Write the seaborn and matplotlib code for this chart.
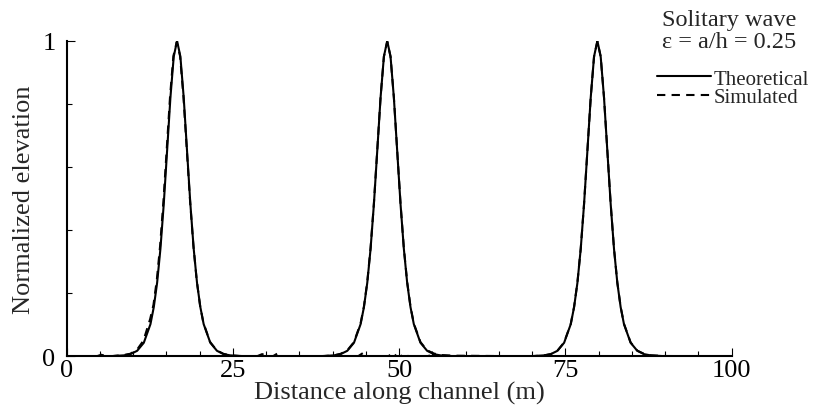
import numpy as np
import pandas as pd
import matplotlib
matplotlib.use("Agg")
import matplotlib.pyplot as plt
from matplotlib.lines import Line2D
import seaborn as sns

# -----------------------------
# DATA
# -----------------------------
peak_x = [16.6, 48.2, 79.8]          # crest positions of the three snapshots (m)
sim_peak_x = [16.55, 48.2, 79.8]

# distance from crest (m)
offsets = [-10, -8, -7, -6, -5, -4, -3.5, -3, -2.5, -2, -1.5, -1, -0.5, 0,
           0.5, 1, 1.5, 2, 2.5, 3, 3.5, 4, 5, 6, 7, 8, 10]

theory_profile = [0.0005, 0.003, 0.007, 0.0175, 0.043, 0.102, 0.156, 0.233, 0.341, 0.483,
                  0.651, 0.820, 0.950, 1.0, 0.950, 0.820, 0.651, 0.483, 0.341, 0.233,
                  0.156, 0.102, 0.043, 0.0175, 0.007, 0.003, 0.0005]

sim_profile_1 = [0.0, 0.004, 0.008, 0.020, 0.050, 0.118, 0.163, 0.241, 0.350, 0.492,
                 0.658, 0.825, 0.952, 0.996, 0.952, 0.826, 0.660, 0.494, 0.352, 0.242,
                 0.162, 0.107, 0.046, 0.019, 0.008, 0.003, 0.0]
sim_profile_2 = [0.0, 0.003, 0.008, 0.019, 0.045, 0.105, 0.158, 0.236, 0.344, 0.486,
                 0.653, 0.821, 0.950, 0.997, 0.950, 0.821, 0.652, 0.485, 0.343, 0.236,
                 0.158, 0.104, 0.045, 0.019, 0.009, 0.004, 0.002]
sim_profile_3 = [0.0, 0.003, 0.007, 0.018, 0.044, 0.103, 0.157, 0.234, 0.342, 0.484,
                 0.652, 0.820, 0.950, 0.998, 0.950, 0.820, 0.652, 0.484, 0.342, 0.234,
                 0.157, 0.103, 0.044, 0.018, 0.008, 0.003, 0.001]

# small dispersive ripples left near the bed by the simulation
ripple_x = [0, 4.5, 5.2, 6.0, 28.6, 29.4, 30.2, 31.0, 31.7, 32.4, 43.8, 44.6, 45.4,
            48.4, 49.0, 49.6, 50.2, 50.8, 51.4, 54.2, 55.0, 55.8, 100]
ripple_y = [0, 0, 0.005, 0, 0, 0.007, 0, 0, 0.009, 0, 0, 0.011, 0,
            0, 0.012, 0, 0, 0.008, 0, 0, 0.005, 0, 0]

edge_x = [0, 100]

# -----------------------------
# BUILD LONG TABLE
# -----------------------------
rows = []
for xe in edge_x:
    rows.append((xe, 0.0, "Theoretical", "t"))
for c in peak_x:
    for d, v in zip(offsets, theory_profile):
        rows.append((c + d, v, "Theoretical", "t"))
for c, prof in zip(sim_peak_x, [sim_profile_1, sim_profile_2, sim_profile_3]):
    for d, v in zip(offsets, prof):
        rows.append((c + d, v, "Simulated", "s"))
for xe in edge_x:
    rows.append((xe, 0.0, "Simulated", "s"))
for xr, yr in zip(ripple_x, ripple_y):
    rows.append((xr, yr, "Simulated", "r"))
df = pd.DataFrame(rows, columns=["x", "y", "series", "unit"])

# -----------------------------
# PLOT
# -----------------------------
sns.set_theme(style="ticks")
plt.rcParams["font.family"] = ["Liberation Serif", "DejaVu Serif"]

fig = plt.figure(figsize=(8.16, 4.10), dpi=100)
ax = fig.add_axes([0.0817, 0.1285, 0.815, 0.7695])

sns.lineplot(data=df, x="x", y="y", hue="series", style="series", units="unit",
             estimator=None, sort=True, hue_order=["Simulated", "Theoretical"],
             palette={"Theoretical": "black", "Simulated": "black"},
             dashes={"Theoretical": "", "Simulated": (4, 3)},
             linewidth=1.5, legend=False, ax=ax)

ax.set_xlim(0, 100)
ax.set_ylim(0, 1)
ax.set_xticks([0, 25, 50, 75, 100])
ax.set_xticks(np.arange(0, 101, 5), minor=True)
ax.set_yticks([0, 1])
ax.set_yticks(np.arange(0, 1.01, 0.2), minor=True)
ax.tick_params(which="both", direction="in", width=0.8, colors="black", labelsize=19)
ax.tick_params(which="major", length=5.5)
ax.tick_params(which="minor", length=3.5)
ax.tick_params(axis="x", pad=2)
ax.tick_params(axis="y", pad=8)
sns.despine(ax=ax)
for s in ["left", "bottom"]:
    ax.spines[s].set_linewidth(1.5)
    ax.spines[s].set_color("black")

ax.set_xlabel("Distance along channel (m)", fontsize=19, labelpad=0)
ax.set_ylabel("Normalized elevation", fontsize=19, labelpad=5)

fig.text(729 / 816, 1 - 10 / 410, "Solitary wave\nε = a/h = 0.25", ha="center", va="top",
         fontsize=17.5, linespacing=1.05)

handles = [Line2D([], [], color="black", lw=1.5),
           Line2D([], [], color="black", lw=1.5, dashes=(4, 3))]
fig.legend(handles, ["Theoretical", "Simulated"], loc="upper left",
           bbox_to_anchor=(657 / 816, 1 - 70 / 410), frameon=False, fontsize=15,
           handlelength=2.6, handletextpad=0.1, borderpad=0, borderaxespad=0,
           labelspacing=-0.05)

fig.savefig("out.png", dpi=100)
